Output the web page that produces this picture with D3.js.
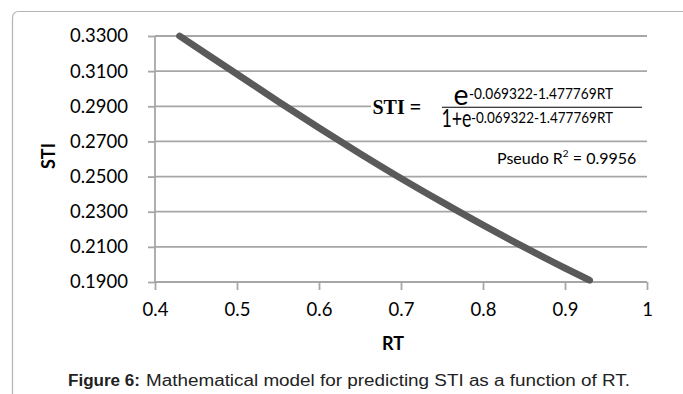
<!DOCTYPE html>
<html><head><meta charset="utf-8">
<script src="https://cdn.jsdelivr.net/npm/d3@7"></script>
<style>body{margin:0;background:#fff}svg{display:block}</style>
</head><body>
<svg id="c" width="683" height="394"></svg>
<script>
const rtValues  = [0.43, 0.50, 0.55, 0.60, 0.65, 0.70, 0.75, 0.80, 0.85, 0.90, 0.93];
const stiValues = [0.3300, 0.3083, 0.2928, 0.2777, 0.2631, 0.2490, 0.2355, 0.2224, 0.2099, 0.1979, 0.1910];
const yTicks = [0.19, 0.21, 0.23, 0.25, 0.27, 0.29, 0.31, 0.33];
const xTicks = [0.4, 0.5, 0.6, 0.7, 0.8, 0.9, 1.0];
const xTitle = "RT", yTitle = "STI";
const eqLeft = "STI =";
const eqExp = "-0.069322-1.477769RT";
const r2Label = "Pseudo R", r2Sup = "2", r2Value = " =  0.9956";
const captionBold = "Figure 6:";
const captionRest = "Mathematical model for predicting STI as a function of RT.";

const svg = d3.select("#c");
const font = "Lato, 'Open Sans', sans-serif";
const grid = "#a6a6a6";

// chart border (top + left, rounded corner)
svg.append("path")
  .attr("d", "M12.5,394 L12.5,18 Q12.5,11.5 19,11.5 L683,11.5")
  .attr("fill", "none").attr("stroke", "#b4b4b4").attr("stroke-width", 1.2);

const x = d3.scaleLinear().domain([0.4, 1.0]).range([155, 647]);
const y = d3.scaleLinear().domain([0.19, 0.33]).range([282, 36]);

// gridlines
svg.append("g").selectAll("line").data(yTicks).join("line")
  .attr("x1", x(0.4)).attr("x2", x(1.0))
  .attr("y1", d => y(d)).attr("y2", d => y(d))
  .attr("stroke", grid).attr("stroke-width", 1.8);

// y axis
const yAxis = svg.append("g").attr("transform", `translate(${x(0.4)},0)`)
  .call(d3.axisLeft(y).tickValues(yTicks).tickFormat(d3.format(".4f")).tickSize(7).tickPadding(20));
yAxis.select(".domain").attr("stroke", grid).attr("stroke-width", 1.8).attr("d", `M0,${y(0.33)}V${y(0.19)}`);
yAxis.selectAll(".tick line").attr("stroke", grid).attr("stroke-width", 1.8);
yAxis.selectAll(".tick text").attr("font-family", font).attr("font-size", 18.5).attr("fill", "#000");

// x axis
const xAxis = svg.append("g").attr("transform", `translate(0,${y(0.19)})`)
  .call(d3.axisBottom(x).tickValues(xTicks).tickFormat(d => d === 1 ? "1" : d3.format(".1f")(d)).tickSize(8).tickPadding(13));
xAxis.select(".domain").attr("stroke", grid).attr("stroke-width", 1.8).attr("d", `M${x(0.4)},0H${x(1.0)}`);
xAxis.selectAll(".tick line").attr("stroke", grid).attr("stroke-width", 1.8);
xAxis.selectAll(".tick text").attr("font-family", font).attr("font-size", 18.5).attr("fill", "#000");

// axis titles
svg.append("text").attr("x", 393).attr("y", 350).attr("text-anchor", "middle")
  .attr("font-family", font).attr("font-weight", "bold").attr("font-size", 18).text(xTitle);
svg.append("text").attr("transform", "translate(55,156) rotate(-90)").attr("text-anchor", "middle")
  .attr("font-family", font).attr("font-weight", "bold").attr("font-size", 18).text(yTitle);

// data line
const pts = rtValues.map((r, i) => [r, stiValues[i]]);
svg.append("path").datum(pts)
  .attr("d", d3.line().x(d => x(d[0])).y(d => y(d[1])).curve(d3.curveMonotoneX))
  .attr("fill", "none").attr("stroke", "#5a5a5a").attr("stroke-width", 6.8)
  .attr("stroke-linecap", "round").attr("stroke-linejoin", "round");

// equation box
svg.append("rect").attr("x", 371).attr("y", 78).attr("width", 278).attr("height", 56).attr("fill", "#fff");
svg.append("text").attr("x", 372.5).attr("y", 113.5)
  .attr("font-family", "'Liberation Serif', 'Times New Roman', serif").attr("font-weight", "bold").attr("font-size", 20)
  .text(eqLeft);
svg.append("line").attr("x1", 442).attr("x2", 642).attr("y1", 107.3).attr("y2", 107.3)
  .attr("stroke", "#000").attr("stroke-width", 1.1);
// numerator
svg.append("text").attr("x", 453.5).attr("y", 105).attr("font-family", font).attr("font-size", 28)
  .attr("textLength", 15).attr("lengthAdjust", "spacingAndGlyphs").text("e");
svg.append("text").attr("x", 469).attr("y", 98.5).attr("font-family", font).attr("font-size", 14.5)
  .attr("textLength", 144).attr("lengthAdjust", "spacingAndGlyphs").text(eqExp);
// denominator
svg.append("text").attr("x", 441.5).attr("y", 127.3).attr("font-family", font).attr("font-size", 25)
  .attr("textLength", 30).attr("lengthAdjust", "spacingAndGlyphs").text("1+e");
svg.append("text").attr("x", 471).attr("y", 123).attr("font-family", font).attr("font-size", 14.5)
  .attr("textLength", 142).attr("lengthAdjust", "spacingAndGlyphs").text(eqExp);

// pseudo R2
const r2 = svg.append("text").attr("x", 497).attr("y", 163.5)
  .attr("font-family", font).attr("font-size", 16);
r2.append("tspan").text(r2Label);
r2.append("tspan").attr("font-size", 10).attr("dy", -7).text(r2Sup);
r2.append("tspan").attr("dy", 7).text(r2Value);

// caption
const capFont = "'Liberation Sans', Arial, sans-serif";
svg.append("text").attr("x", 68).attr("y", 385.7).attr("font-family", capFont).attr("font-size", 16)
  .attr("font-weight", "bold").attr("fill", "#222")
  .attr("textLength", 72).attr("lengthAdjust", "spacingAndGlyphs").text(captionBold);
svg.append("text").attr("x", 146).attr("y", 385.7).attr("font-family", capFont).attr("font-size", 16)
  .attr("fill", "#222")
  .attr("textLength", 484).attr("lengthAdjust", "spacingAndGlyphs").text(captionRest);
</script>
</body></html>
